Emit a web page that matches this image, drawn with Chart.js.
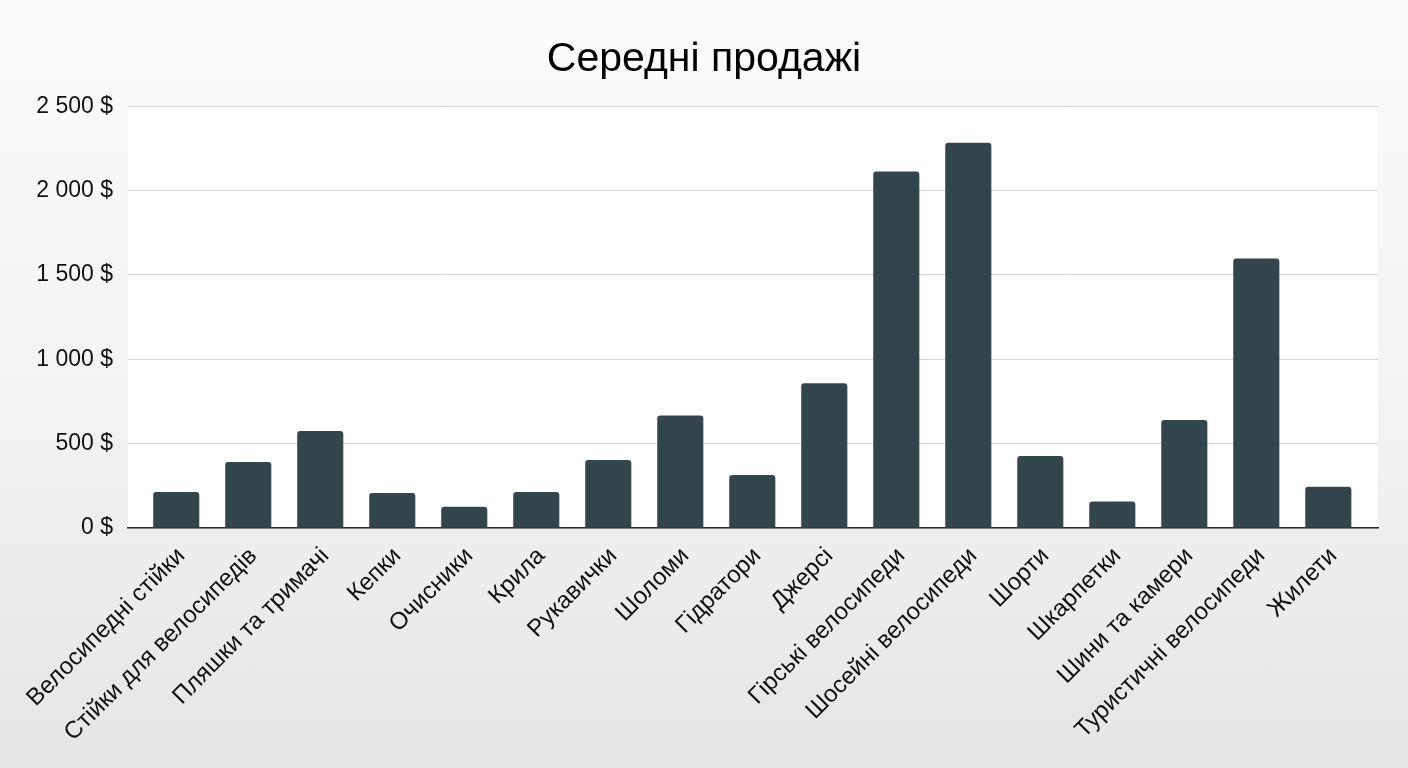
<!DOCTYPE html>
<html>
<head>
<meta charset="utf-8">
<script src="https://cdn.jsdelivr.net/npm/chart.js@4.4.1/dist/chart.umd.min.js"></script>
<style>
  html, body { margin: 0; padding: 0; }
  body {
    width: 1408px; height: 768px; overflow: hidden;
    background: linear-gradient(to bottom, #fcfcfc 0%, #f2f2f2 55%, #e6e6e6 100%);
  }
  #wrap { position: relative; width: 1408px; height: 768px; }
</style>
</head>
<body>
<div id="wrap"><canvas id="mycanvas"></canvas></div>
<script>
var categories = [
  "Велосипедні стійки", "Стійки для велосипедів", "Пляшки та тримачі", "Кепки",
  "Очисники", "Крила", "Рукавички", "Шоломи", "Гідратори", "Джерсі",
  "Гірські велосипеди", "Шосейні велосипеди", "Шорти", "Шкарпетки",
  "Шини та камери", "Туристичні велосипеди", "Жилети"
];
var avgSales = [213, 391, 575, 207, 126, 213, 403, 667, 314, 858, 2113, 2283, 427, 157, 640, 1597, 245];
var yTicks = [0, 500, 1000, 1500, 2000, 2500];

function money(v) {
  return String(v).replace(/\B(?=(\d{3})+(?!\d))/g, " ") + " $";
}

// white plot area behind the bars
var plotBg = {
  id: "plotBg",
  beforeDraw: function(chart) {
    var a = chart.chartArea, ctx = chart.ctx;
    ctx.save();
    ctx.fillStyle = "#ffffff";
    ctx.fillRect(a.left, a.top, a.right - a.left, a.bottom - a.top);
    ctx.restore();
  }
};

var points = [];
for (var i in avgSales) {
  points.push({ x: Number(i), y: avgSales[i] });
}

var FONT = "'Liberation Sans', Arial, sans-serif";
var ctx = document.getElementById("mycanvas");

var BarGraph = new Chart(ctx, {
  type: "bar",
  data: {
    datasets: [{
      label: "Середні продажі",
      data: points,
      backgroundColor: "#33464c",
      borderWidth: 0,
      borderRadius: 3,
      borderSkipped: "bottom",
      barPercentage: 0.8,
      categoryPercentage: 0.8
    }]
  },
  options: {
    responsive: true,
    maintainAspectRatio: false,
    animation: false,
    layout: { padding: 0 },
    plugins: {
      legend: { display: false },
      tooltip: { enabled: false },
      title: {
        display: true,
        text: "Середні продажі",
        color: "#000000",
        font: { family: FONT, size: 41, weight: "normal" },
        padding: { top: 35, bottom: 22 }
      }
    },
    scales: {
      x: {
        type: "linear",
        offset: false,
        min: -0.67,
        max: 16.69,
        // labels sit a touch right of the bar centre, like the original
        afterBuildTicks: function(axis) {
          axis.ticks = categories.map(function(c, i) { return { value: i + 0.07 }; });
        },
        afterFit: function(axis) { axis.height = 240; },
        grid: { display: true, offset: false, drawOnChartArea: false, drawTicks: false, color: "rgba(0,0,0,0)" },
        border: { display: true, color: "#2a2a2a", width: 1.5 },
        ticks: {
          autoSkip: false,
          minRotation: 45,
          maxRotation: 45,
          padding: 14,
          color: "#111111",
          font: { family: FONT, size: 24 },
          callback: function(v) { return categories[Math.round(v)]; }
        }
      },
      y: {
        min: 0,
        max: 2500,
        afterBuildTicks: function(axis) {
          axis.ticks = yTicks.map(function(v) { return { value: v }; });
        },
        afterFit: function(axis) { axis.width = 128; },
        grid: { color: "#d4d4d4", lineWidth: 1, drawTicks: false },
        border: { display: false },
        ticks: {
          padding: 15,
          color: "#111111",
          font: { family: FONT, size: 23 },
          callback: function(v) { return money(v); }
        }
      },
      // empty right margin so the title stays centred on the page
      yRight: {
        position: "right",
        display: true,
        grid: { display: false },
        border: { display: false },
        ticks: { display: false },
        afterFit: function(axis) { axis.width = 30; }
      }
    }
  },
  plugins: [plotBg]
});
</script>
</body>
</html>
